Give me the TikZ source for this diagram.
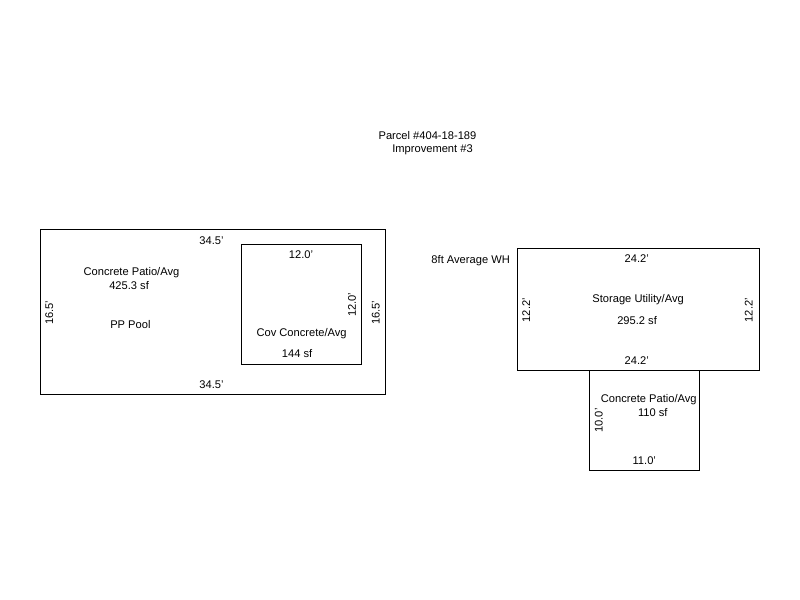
\documentclass[tikz,border=0pt]{standalone}
\usepackage{fontspec}
\setmainfont{Liberation Sans}
\usetikzlibrary{positioning}
\tikzset{
    plan/.style={draw, line width=0.75pt, inner sep=0pt, minimum width=#1},
    lbl/.style={font=\fontsize{8.35pt}{10pt}\selectfont, inner sep=0pt, text height=1.6ex, text depth=.3ex},
    vlbl/.style={lbl, rotate=90}
}
\begin{document}
\begin{tikzpicture}[x=1pt, y=-1pt]
    \useasboundingbox (0,0) rectangle (600,450);

    % title
    \node[lbl] (parcel) at (320.6,101) {Parcel \#404-18-189};
    \node[lbl] (improve) at (324.4,110.8) {Improvement \#3};

    % left block
    \node[plan=258.75pt, minimum height=123.75pt] (patio) at (159.4,234) {};
    \node[plan=90pt, minimum height=90pt] (cov) at (226.1,228.4) {};

    \node[lbl] (patiotop) at (158.6,179.8) {34.5'};
    \node[lbl] (patiobot) at (158.6,288) {34.5'};
    \node[vlbl] (patioleft) at (36.4,234.6) {16.5'};
    \node[vlbl] (patioright) at (281.2,234.6) {16.5'};
    \node[lbl] (covtop) at (225.8,190.8) {12.0'};
    \node[vlbl] (covright) at (263.4,228.6) {12.0'};
    \node[lbl] (pationame) at (98.6,203) {Concrete Patio/Avg};
    \node[lbl] (patioarea) at (96.8,213.4) {425.3 sf};
    \node[lbl] (pool) at (97.8,243) {PP Pool};
    \node[lbl] (covname) at (226.2,249) {Cov Concrete/Avg};
    \node[lbl] (covarea) at (222.8,264.4) {144 sf};

    % right block
    \node[plan=181.5pt, minimum height=91.5pt] (storage) at (478.5,232.1) {};
    \node[plan=82.5pt, minimum height=75pt] (porch) at (483.6,315.2) {};

    \node[lbl] (height) at (353,194) {8ft Average WH};
    \node[lbl] (storetop) at (477.6,193.4) {24.2'};
    \node[lbl] (storebot) at (477.6,270) {24.2'};
    \node[vlbl] (storeleft) at (394.2,232.6) {12.2'};
    \node[vlbl] (storeright) at (561,232.6) {12.2'};
    \node[lbl] (storename) at (478.6,223.2) {Storage Utility/Avg};
    \node[lbl] (storearea) at (477.8,240) {295.2 sf};
    \node[lbl] (porchname) at (486.6,298.2) {Concrete Patio/Avg};
    \node[lbl] (porcharea) at (489.6,309) {110 sf};
    \node[vlbl] (porchleft) at (448.6,315.4) {10.0'};
    \node[lbl] (porchbot) at (483.2,345) {11.0'};
\end{tikzpicture}
\end{document}
